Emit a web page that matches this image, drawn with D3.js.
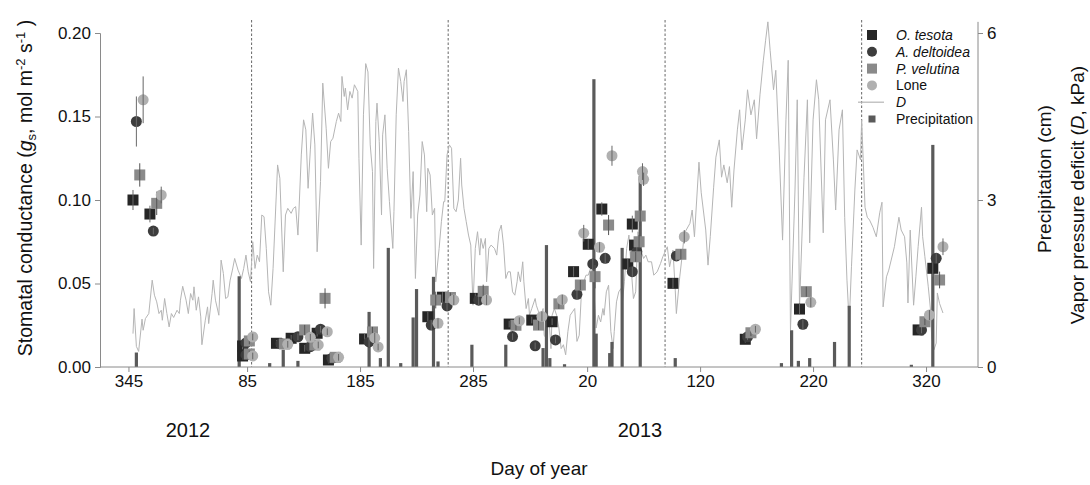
<!DOCTYPE html>
<html>
<head>
<meta charset="utf-8">
<script src="https://cdn.jsdelivr.net/npm/d3@7"></script>
<style>
  body { margin: 0; background: #fff; }
  svg { font-family: Arial, "Liberation Sans", sans-serif; }
</style>
</head>
<body>
<svg id="chart" width="1090" height="485"></svg>
<script>
// days are counted from 31 Dec 2011 (2011: doy - 365, 2012: doy, 2013: doy + 366)
const tickDays = [-20, 85, 185, 285, 386, 486, 586, 686];
const tickLabels = ["345", "85", "185", "285", "20", "120", "220", "320"];
const seasonBreaks = [89, 263, 455, 629];
const gsTicks = [0, 0.05, 0.10, 0.15, 0.20];
const rightTicks = [0, 3, 6];

// stomatal conductance: [day, gs, se]
const oTesota = [[-16,0.100,0.006],[-1,0.0916,0.005],[81,0.0126,0.002],[81,0.0066,0.002],[111,0.0142,0.002],[124,0.0172,0.002],[136,0.0112,0.002],[147,0.0202,0.002],[157,0.0042,0.002],[189,0.0168,0.003],[245,0.0301,0.003],[258,0.0418,0.003],[287,0.0411,0.003],[317,0.0257,0.002],[337,0.0281,0.002],[355,0.0271,0.002],[374,0.0571,0.003],[387,0.0735,0.003],[399,0.0946,0.004],[422,0.0617,0.003],[426,0.0856,0.005],[428,0.073,0.003],[462,0.0501,0.003],[526,0.0166,0.002],[574,0.0347,0.003],[679,0.0222,0.002],[692,0.0591,0.005]];
const aDeltoidea = [[-13,0.147,0.015],[2,0.0814,0.002],[84,0.0144,0.002],[84,0.0072,0.002],[115,0.0140,0.002],[130,0.0181,0.002],[141,0.0122,0.002],[150,0.0226,0.002],[160,0.0052,0.002],[193,0.0150,0.003],[248,0.0251,0.003],[262,0.0366,0.003],[290,0.0400,0.003],[320,0.0182,0.002],[340,0.0127,0.002],[358,0.0162,0.002],[377,0.0435,0.003],[391,0.0617,0.003],[402,0.0651,0.003],[426,0.0571,0.003],[430,0.069,0.003],[465,0.0665,0.003],[528,0.0181,0.002],[577,0.0256,0.003],[682,0.0222,0.002],[695,0.0651,0.003]];
const pVelutina = [[-10,0.115,0.007],[5,0.098,0.007],[87,0.0156,0.002],[87,0.0078,0.002],[118,0.0138,0.002],[136,0.0222,0.003],[145,0.0132,0.002],[154,0.0411,0.006],[163,0.0058,0.002],[196,0.0210,0.003],[252,0.0401,0.005],[265,0.0416,0.003],[294,0.0453,0.004],[323,0.0250,0.003],[343,0.0251,0.003],[361,0.0378,0.003],[380,0.0491,0.003],[393,0.0541,0.007],[405,0.085,0.006],[429,0.066,0.003],[432,0.075,0.004],[433,0.0904,0.006],[469,0.0675,0.003],[531,0.0205,0.002],[580,0.0451,0.003],[685,0.0271,0.002],[698,0.0521,0.005]];
const lone = [[-7,0.160,0.014],[9,0.103,0.005],[90,0.0180,0.002],[90,0.0066,0.002],[121,0.0136,0.002],[141,0.0178,0.002],[148,0.0132,0.002],[156,0.0211,0.002],[166,0.0058,0.002],[198,0.0174,0.003],[201,0.0120,0.002],[254,0.0262,0.003],[268,0.0401,0.003],[297,0.0401,0.003],[326,0.0277,0.002],[346,0.0303,0.003],[364,0.0403,0.003],[383,0.0801,0.005],[397,0.0717,0.003],[408,0.1265,0.006],[435,0.117,0.005],[436,0.1124,0.004],[472,0.078,0.004],[535,0.0226,0.002],[584,0.0387,0.003],[689,0.0311,0.003],[701,0.072,0.005]];

// precipitation (cm): [day, cm]
const rain = [[-13,0.26],[78,1.63],[105,0.07],[117,0.31],[130,0.11],[193,0.99],[203,0.16],[210,2.14],[221,0.07],[232,0.89],[235,1.40],[250,1.62],[254,0.10],[284,0.40],[314,0.40],[347,0.34],[350,2.19],[353,0.16],[366,0.05],[392,5.17],[394,0.60],[406,0.25],[408,0.45],[417,2.14],[433,3.43],[464,0.16],[558,0.07],[567,0.66],[573,0.11],[583,0.16],[605,0.45],[618,1.10],[673,0.04],[692,3.99]];

// vapor pressure deficit D (kPa): [day, kPa]
const vpd = [[-16,0.60],[-15,1.05],[-13,0.37],[-11,0.28],[-8,0.86],[-7,0.66],[-5,0.87],[-2,0.96],[1,1.56],[3,1.29],[5,1.17],[7,0.96],[9,1.02],[10,0.84],[12,1.23],[14,0.96],[16,0.72],[18,0.96],[20,0.89],[23,1.02],[25,0.96],[26,1.20],[28,1.45],[31,1.20],[33,0.96],[35,1.32],[37,1.20],[38,1.44],[40,1.02],[42,1.26],[44,0.90],[45,0.40],[48,0.84],[50,1.08],[51,0.78],[54,1.32],[55,1.56],[57,1.20],[60,0.93],[62,1.92],[64,1.68],[66,1.23],[68,1.26],[70,1.56],[72,1.74],[74,1.95],[77,1.74],
  [80,1.59],[82,1.77],[84,2.01],[86,1.71],[88,1.53],[90,2.25],[92,1.77],[94,2.01],[96,1.89],[98,2.73],[100,2.70],[102,2.13],[104,1.35],[106,1.11],[108,1.77],[112,3.63],[114,3.39],[117,1.71],[119,2.73],[121,2.85],[124,2.76],[126,2.85],[128,2.88],[130,2.37],[133,3.81],[135,4.44],[137,4.26],[139,3.21],[141,3.90],[143,4.56],[145,3.99],[147,2.07],[150,3.33],[152,5.10],[155,4.29],[157,3.57],[159,4.05],[161,4.11],[164,4.41],[166,4.56],[168,4.41],[169,5.22],[171,4.86],[172,5.01],[174,4.62],[176,4.95],[178,4.83],[180,5.07],[183,4.95],[184,3.75],[186,2.19],[188,4.53],[190,5.45],[192,5.30],[194,3.99],[196,3.51],[197,1.77],[199,4.41],[200,4.74],[202,4.05],[204,2.73],[205,4.17],[207,4.53],[209,3.57],[211,2.97],[214,2.13],[215,2.79],[217,4.53],[219,5.37],[221,5.13],[223,4.77],[224,5.13],[226,5.34],[228,4.23],[230,2.67],[232,3.51],[234,1.59],[236,2.73],[238,3.09],[240,4.05],[242,3.81],[244,2.79],[245,3.57],[247,3.45],[249,2.73],[251,2.85],[252,1.53],[255,2.13],[257,2.61],[259,2.97],[260,2.97],[262,3.81],[264,3.99],[266,3.93],[268,2.85],[270,2.79],[272,3.00],[274,3.75],[275,3.27],[277,2.85],[279,2.61],[281,2.37],[283,2.19],[285,1.11],[287,2.13],[289,2.43],[291,2.01],[292,2.31],[294,2.13],[296,2.31],[297,1.53],[299,2.13],[301,2.19],[304,2.13],[306,2.01],[308,2.43],[310,2.55],[312,2.19],[314,1.59],[316,1.71],[318,1.71],[320,1.35],[322,1.29],[324,1.53],[325,1.71],[327,1.53],[329,1.89],[330,1.53],[332,1.05],[334,1.23],[335,0.93],[337,1.05],[340,1.23],[341,1.11],[343,0.99],[345,0.93],[347,1.05],[348,0.57],[350,0.51],[352,0.93],[354,0.33],[355,0.93],[357,1.05],[359,0.93],[361,0.70],[363,0.33],[365,0.40],[367,0.22],[369,0.64],[371,0.93],[373,0.99],[375,1.05],[377,0.46],[379,0.57],[381,1.35],[383,1.53],[385,1.65],[387,1.65],[389,1.77],[391,1.65],[393,1.05],[394,0.70],[396,0.93],[398,0.81],[400,1.05],[401,0.93],[403,1.35],[405,1.47],[407,0.64],[409,0.33],[410,0.64],[412,1.17],[414,1.35],[416,1.41],[417,1.11],[419,1.53],[421,2.13],[423,2.37],[425,1.77],[427,1.23],[429,1.35],[431,2.43],[433,2.13],[436,1.95],[438,2.01],[440,1.89],[443,1.89],[445,1.65],[448,1.71],
  [451,1.86],[453,1.98],[457,2.16],[459,1.80],[462,2.10],[464,1.38],[465,0.96],[468,1.62],[470,1.98],[472,2.40],[477,2.58],[479,2.82],[481,2.34],[485,3.68],[487,3.13],[491,2.46],[493,1.83],[495,2.34],[498,3.23],[500,3.77],[503,4.08],[505,3.41],[507,3.63],[510,3.31],[512,3.60],[514,2.87],[516,3.54],[519,4.26],[521,4.62],[523,3.90],[526,4.44],[528,4.98],[531,4.53],[534,4.80],[536,4.10],[539,4.89],[542,5.51],[544,5.87],[546,6.20],[548,5.69],[551,4.98],[553,5.33],[556,3.90],[559,2.28],[562,4.44],[564,5.51],[566,0.66],[570,3.18],[572,4.80],[574,1.08],[578,3.41],[581,4.80],[583,2.23],[586,4.44],[589,5.16],[591,4.80],[595,2.41],[597,4.44],[601,4.80],[604,3.72],[606,2.82],[609,4.26],[612,4.62],[614,2.69],[616,1.56],[618,0.79],[620,1.80],[623,3.18],[625,3.90],[628,3.72],[629,4.44],[632,2.87],[634,2.69],[636,2.64],[639,2.51],[642,2.34],[645,2.77],[647,2.96],[648,1.08],[651,1.62],[653,1.74],[658,2.16],[662,2.69],[664,2.46],[667,2.34],[669,1.87],[670,1.15],[672,2.46],[675,1.11],[677,1.62],[679,2.16],[682,2.87],[683,2.34],[685,1.98],[688,1.44],[690,1.02],[691,0.54],[693,0.31],[695,0.43],[696,1.33],[698,1.14],[701,0.97]];

const svg = d3.select("#chart");

const x = d3.scaleLinear().domain([-45.2, 732]).range([100, 978]);
const yL = d3.scaleLinear().domain([0, 0.2]).range([367, 33]);
const yR = d3.scaleLinear().domain([0, 6]).range([367, 33]);

const axisGrey = "#8a8a8a";

// linhas de estação (tracejadas)
svg.selectAll(".quebra")
    .data(seasonBreaks)
    .enter()
    .append("line")
    .attr("class", "quebra")
    .attr("x1", d => x(d)).attr("x2", d => x(d))
    .attr("y1", 20).attr("y2", yL(0))
    .attr("stroke", "#555")
    .attr("stroke-width", 0.9)
    .attr("stroke-dasharray", "2.5,2");

// D
svg.append("path")
    .datum(vpd)
    .attr("fill", "none")
    .attr("stroke", "#b5b5b5")
    .attr("stroke-width", 1)
    .attr("d", d3.line().x(d => x(d[0])).y(d => yR(d[1])));

// precipitacao
svg.selectAll(".chuva")
    .data(rain)
    .enter()
    .append("rect")
    .attr("class", "chuva")
    .attr("x", d => x(d[0]) - 1.6)
    .attr("width", 3.2)
    .attr("y", d => yR(d[1]))
    .attr("height", d => yR(0) - yR(d[1]))
    .attr("fill", "#5a5a5a");

// pontos com barras de erro
const species = [
    { data: oTesota, shape: "square", fill: "#262626", bar: "#6a6a6a" },
    { data: aDeltoidea, shape: "circle", fill: "#3d3d3d", bar: "#6a6a6a" },
    { data: pVelutina, shape: "square", fill: "#8a8a8a", bar: "#555" },
    { data: lone, shape: "circle", fill: "#b0b0b0", bar: "#666" }
];

species.forEach(s => {
    const g = svg.append("g");
    if (s.shape === "square") {
        g.selectAll("rect")
            .data(s.data)
            .enter()
            .append("rect")
            .attr("x", d => x(d[0]) - 5.5)
            .attr("y", d => yL(d[1]) - 5.5)
            .attr("width", 11)
            .attr("height", 11)
            .attr("fill", s.fill);
    } else {
        g.selectAll("circle")
            .data(s.data)
            .enter()
            .append("circle")
            .attr("cx", d => x(d[0]))
            .attr("cy", d => yL(d[1]))
            .attr("r", 5.5)
            .attr("fill", s.fill);
    }
    g.selectAll("line")
        .data(s.data)
        .enter()
        .append("line")
        .attr("x1", d => x(d[0])).attr("x2", d => x(d[0]))
        .attr("y1", d => yL(d[1] - d[2]))
        .attr("y2", d => yL(d[1] + d[2]))
        .attr("stroke", s.bar)
        .attr("stroke-width", 1);
});

// eixos
const axisL = svg.append("g")
    .attr("transform", `translate(${x.range()[0]},0)`)
    .call(d3.axisLeft(yL).tickValues(gsTicks).tickFormat(d3.format(".2f")).tickSize(5).tickPadding(4));

const axisR = svg.append("g")
    .attr("transform", `translate(${x.range()[1]},0)`)
    .call(d3.axisRight(yR).tickValues(rightTicks).tickFormat(d3.format("d")).tickSize(5).tickPadding(4));
axisR.select(".domain").attr("d", `M0,${yR(6.2)}V${yR(0)}`);

const axisB = svg.append("g")
    .attr("transform", `translate(0,${yL(0)})`)
    .call(d3.axisBottom(x).tickValues(tickDays).tickFormat((d, i) => tickLabels[i]).tickSize(5).tickPadding(3));
axisB.select(".domain").attr("d", `M${x.range()[0]},0H${x.range()[1]}`);

[axisL, axisR, axisB].forEach(a => {
    a.selectAll(".domain, .tick line").attr("stroke", axisGrey);
    a.selectAll("text").attr("font-size", 17).attr("fill", "#111").attr("font-family", "Arial, 'Liberation Sans', sans-serif");
});

// titulos
const titleL = svg.append("text")
    .attr("transform", "translate(32,188) rotate(-90)")
    .attr("text-anchor", "middle")
    .attr("font-size", 19.5)
    .attr("fill", "#111");
titleL.append("tspan").text("Stomatal conductance (");
titleL.append("tspan").attr("font-style", "italic").text("g");
titleL.append("tspan").attr("font-size", 13).attr("dy", 4).text("s");
titleL.append("tspan").attr("dy", -4).text(", mol m");
titleL.append("tspan").attr("font-size", 13).attr("dy", -7).text("-2");
titleL.append("tspan").attr("dy", 7).text(" s");
titleL.append("tspan").attr("font-size", 13).attr("dy", -7).text("-1");
titleL.append("tspan").attr("dy", 7).text(" )");

svg.append("text")
    .attr("transform", "translate(1051,179) rotate(-90)")
    .attr("text-anchor", "middle")
    .attr("font-size", 19)
    .attr("fill", "#111")
    .text("Precipitation (cm)");

const titleR = svg.append("text")
    .attr("transform", "translate(1084,195) rotate(-90)")
    .attr("text-anchor", "middle")
    .attr("font-size", 19)
    .attr("fill", "#111");
titleR.append("tspan").text("Vapor pressure deficit (");
titleR.append("tspan").attr("font-style", "italic").text("D");
titleR.append("tspan").text(", kPa)");

svg.append("text").attr("x", 188).attr("y", 437).attr("text-anchor", "middle")
    .attr("font-size", 20).attr("fill", "#111").text("2012");
svg.append("text").attr("x", 640).attr("y", 437).attr("text-anchor", "middle")
    .attr("font-size", 20).attr("fill", "#111").text("2013");
svg.append("text").attr("x", 539).attr("y", 475).attr("text-anchor", "middle")
    .attr("font-size", 19).attr("fill", "#111").text("Day of year");

// legenda
const legendItems = [
    { label: "O. tesota", italic: true, kind: "square", fill: "#262626" },
    { label: "A. deltoidea", italic: true, kind: "circle", fill: "#3d3d3d" },
    { label: "P. velutina", italic: true, kind: "square", fill: "#8a8a8a" },
    { label: "Lone", italic: false, kind: "circle", fill: "#b0b0b0" },
    { label: "D", italic: true, kind: "line", fill: "#b5b5b5" },
    { label: "Precipitation", italic: false, kind: "bar", fill: "#5a5a5a" }
];

const legend = svg.append("g").attr("transform", "translate(872,35)");
legendItems.forEach((it, i) => {
    const row = legend.append("g").attr("transform", `translate(0,${i * 16.8})`);
    if (it.kind === "square") {
        row.append("rect").attr("x", -5).attr("y", -5).attr("width", 10).attr("height", 10).attr("fill", it.fill);
    } else if (it.kind === "circle") {
        row.append("circle").attr("r", 5).attr("fill", it.fill);
    } else if (it.kind === "line") {
        row.append("line").attr("x1", -14).attr("x2", 12).attr("stroke", it.fill).attr("stroke-width", 1.2);
    } else {
        row.append("rect").attr("x", -3.5).attr("y", -3.5).attr("width", 7).attr("height", 7).attr("fill", it.fill);
    }
    row.append("text")
        .attr("x", 24)
        .attr("y", 5)
        .attr("font-size", 14)
        .attr("font-style", it.italic ? "italic" : "normal")
        .attr("fill", "#111")
        .text(it.label);
});
</script>
</body>
</html>
